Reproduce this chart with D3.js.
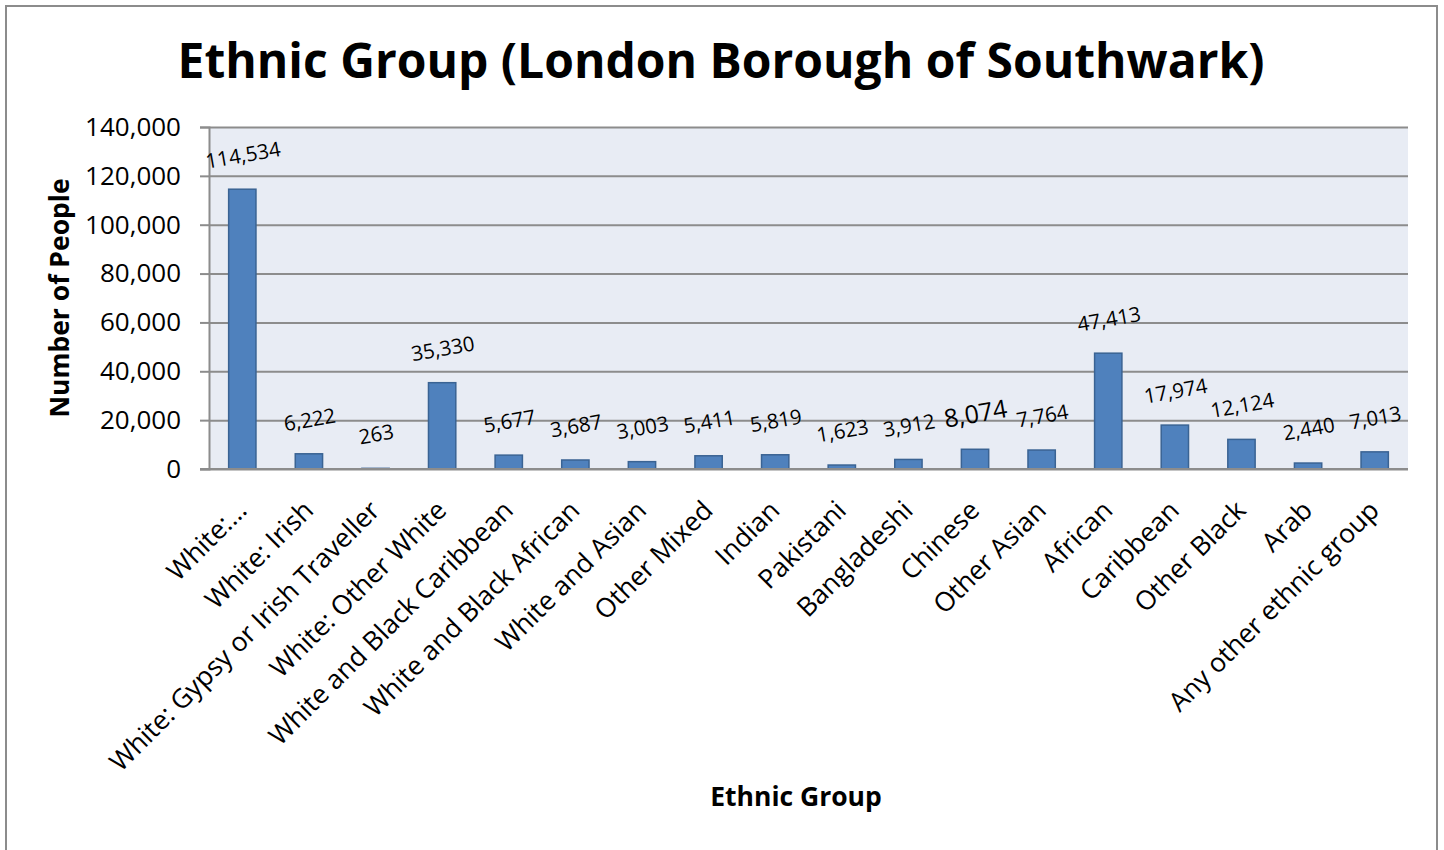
<!DOCTYPE html>
<html>
<head>
<meta charset="utf-8">
<script src="https://cdn.jsdelivr.net/npm/d3@7"></script>
<style>
  body { margin: 0; background: #fff; }
  text { font-family: "Open Sans", sans-serif; fill: #000; }
  .title { font-weight: bold; font-size: 48px; }
  .axislabel { font-weight: bold; font-size: 26.5px; }
  .tick text { font-size: 26px; }
  .xlab { font-size: 26.5px; }
  .vlabel { font-size: 20.5px; }
</style>
</head>
<body>
<svg id="chart" width="1444" height="850"></svg>
<script>
const groups = ["White:…", "White: Irish", "White: Gypsy or Irish Traveller", "White: Other White",
  "White and Black Caribbean", "White and Black African", "White and Asian", "Other Mixed",
  "Indian", "Pakistani", "Bangladeshi", "Chinese", "Other Asian", "African", "Caribbean",
  "Other Black", "Arab", "Any other ethnic group"];
const people = [114534, 6222, 263, 35330, 5677, 3687, 3003, 5411, 5819, 1623, 3912, 8074,
  7764, 47413, 17974, 12124, 2440, 7013];
const yTicks = [0, 20000, 40000, 60000, 80000, 100000, 120000, 140000];

const svg = d3.select("#chart");
const pLeft = 209, pRight = 1408, pTop = 127, pBottom = 469;

// outer frame
svg.append("rect").attr("x", 6).attr("y", 6).attr("width", 1431).attr("height", 900)
  .attr("fill", "#fff").attr("stroke", "#8c8c8c").attr("stroke-width", 2);

svg.append("text").attr("class", "title").attr("x", 721).attr("y", 78)
  .attr("text-anchor", "middle").text("Ethnic Group (London Borough of Southwark)");

const x = d3.scaleBand().domain(groups).range([pLeft, pRight]).paddingInner(0.59).paddingOuter(0.295);
const y = d3.scaleLinear().domain([0, 140000]).range([pBottom, pTop]);

svg.append("rect").attr("x", pLeft).attr("y", pTop).attr("width", pRight - pLeft).attr("height", pBottom - pTop)
  .attr("fill", "#e8ecf4");

// gridlines + y axis
const yAxis = d3.axisLeft(y).tickValues(yTicks).tickSize(9).tickPadding(19)
  .tickFormat(d3.format(","));
const ya = svg.append("g").attr("transform", `translate(${pLeft},0)`).call(yAxis);
ya.attr("font-family", null).attr("font-size", null);
ya.select(".domain").attr("stroke", "#8c8c8c").attr("stroke-width", 2);
ya.selectAll(".tick line").attr("stroke", "#8c8c8c").attr("stroke-width", 2);
ya.selectAll(".tick").append("line").attr("x1", 0).attr("x2", pRight - pLeft)
  .attr("stroke", "#8c8c8c").attr("stroke-width", 2);
ya.selectAll(".tick text").attr("fill", "#000");

svg.append("text").attr("class", "axislabel")
  .attr("transform", "translate(69,298) rotate(-90)").attr("text-anchor", "middle")
  .text("Number of People");

// bars
svg.selectAll("rect.bar").data(groups).join("rect").attr("class", "bar")
  .attr("x", d => x(d)).attr("width", x.bandwidth())
  .attr("y", (d, i) => y(people[i])).attr("height", (d, i) => pBottom - y(people[i]))
  .attr("fill", "#4f81bd").attr("stroke", "#3a6393").attr("stroke-width", 1.5);

// value labels
svg.selectAll("text.vlabel").data(groups).join("text").attr("class", "vlabel")
  .attr("text-anchor", "middle")
  .attr("transform", (d, i) => `translate(${x(d) + x.bandwidth() / 2 + 2},${y(people[i]) - 27}) rotate(-10)`)
  .style("font-size", (d, i) => people[i] === 8074 ? "25px" : null)
  .text((d, i) => d3.format(",")(people[i]));

// x axis line
svg.append("line").attr("x1", pLeft - 9).attr("x2", pRight).attr("y1", pBottom).attr("y2", pBottom)
  .attr("stroke", "#8c8c8c").attr("stroke-width", 2);

// category labels
svg.selectAll("text.xlab").data(groups).join("text").attr("class", "xlab")
  .attr("text-anchor", "end")
  .attr("transform", d => `translate(${x(d) + x.bandwidth() / 2 + 6},${pBottom + 43}) rotate(-45)`)
  .text(d => d);

svg.append("text").attr("class", "axislabel").attr("x", 796).attr("y", 806)
  .attr("text-anchor", "middle").text("Ethnic Group");
</script>
</body>
</html>
